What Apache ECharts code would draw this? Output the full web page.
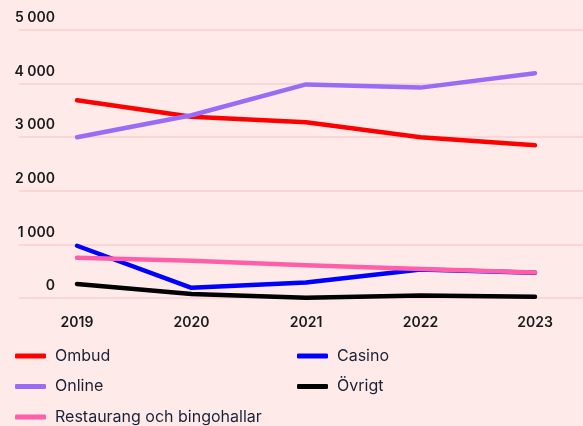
<!DOCTYPE html>
<html>
<head>
<meta charset="utf-8"/>
<title></title>
<script src="https://cdn.jsdelivr.net/npm/echarts@6/dist/echarts.min.js"></script>
<style>
  html, body { margin: 0; padding: 0; background: #ffeaea; }
</style>
</head>
<body>
<div id="chart" style="width:583px;height:426px;"></div>
<script type="text/javascript">

var years = ['2019', '2020', '2021', '2022', '2023'];
var ombud = [3690, 3380, 3280, 3000, 2850];
var online = [3000, 3410, 3985, 3925, 4195];
var casino = [975, 190, 290, 530, 470];
var ovrigt = [260, 75, 5, 45, 25];
var restaurang = [750, 695, 610, 540, 475];
var yTicks = [0, 1000, 2000, 3000, 4000, 5000];

var fontName = 'Inter';
var chart = echarts.init(document.getElementById('chart'));

function fmt(v) {
    return String(v).replace(/\B(?=(\d{3})+(?!\d))/g, ' ');
}

function line(name, data, color) {
    return {
        name: name,
        type: 'line',
        xAxisIndex: 1,
        yAxisIndex: 1,
        data: data,
        symbol: 'none',
        lineStyle: { width: 4.5, color: color, cap: 'round', join: 'round' },
        itemStyle: { color: color }
    };
}

var legendText = { fontFamily: fontName, fontSize: 16, lineHeight: 18, color: '#1b2236', padding: [0, 0, 0, 4] };

var option = {
    backgroundColor: '#ffeaea',
    animation: false,
    grid: [
        { left: 19, right: 0, top: 30, bottom: 128 },
        { left: 77, right: 48, top: 30, bottom: 128 }
    ],
    legend: [{
        left: 15, top: 347, bottom: 0, orient: 'vertical', itemGap: 12.5, padding: 0,
        itemWidth: 31, itemHeight: 5, icon: 'roundRect',
        data: ['Ombud', 'Online', 'Restaurang och bingohallar'],
        textStyle: legendText
    }, {
        left: 297, top: 347, bottom: 0, orient: 'vertical', itemGap: 12.5, padding: 0,
        itemWidth: 31, itemHeight: 5, icon: 'roundRect',
        data: ['Casino', 'Övrigt'],
        textStyle: legendText
    }],
    xAxis: [{
        gridIndex: 0, type: 'value', min: 0, max: 1, show: false
    }, {
        gridIndex: 1, type: 'category', data: years, boundaryGap: false,
        axisLine: { show: false }, axisTick: { show: false },
        axisLabel: { margin: 18, fontFamily: fontName, fontSize: 14, fontWeight: 600, color: '#1a1a1a' }
    }],
    yAxis: [{
        gridIndex: 0, type: 'value', min: yTicks[0], max: yTicks[yTicks.length - 1], interval: 1000,
        axisLine: { show: false }, axisTick: { show: false },
        splitLine: { lineStyle: { color: '#f8cfcf', width: 1.5 } },
        axisLabel: {
            inside: true, margin: 36, align: 'right', verticalAlign: 'bottom',
            padding: [0, 0, 5, 0],
            fontFamily: fontName, fontSize: 14, fontWeight: 600, color: '#1a1a1a',
            formatter: function (v) { return fmt(v); }
        }
    }, {
        gridIndex: 1, type: 'value', min: yTicks[0], max: yTicks[yTicks.length - 1], interval: 1000,
        show: false
    }],
    series: [
        line('Ombud', ombud, '#ff0000'),
        line('Casino', casino, '#0000ff'),
        line('Online', online, '#9a6cf5'),
        line('Övrigt', ovrigt, '#000000'),
        line('Restaurang och bingohallar', restaurang, '#ff5fa8')
    ]
};
chart.setOption(option);

</script>
</body>
</html>
